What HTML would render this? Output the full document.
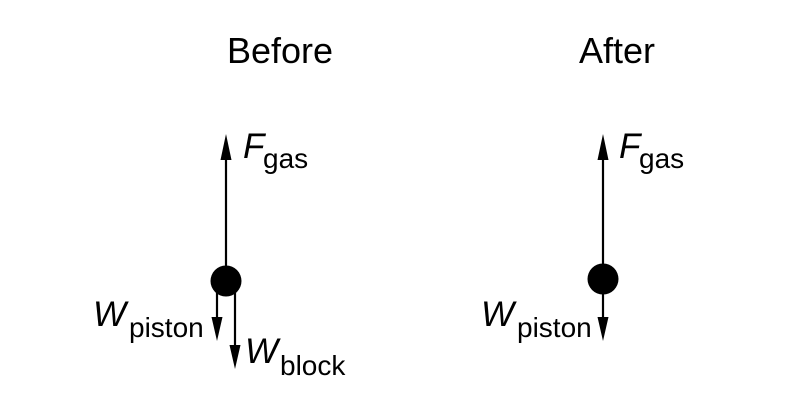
<!DOCTYPE html>
<html><head><style>
body{margin:0;background:#fff;}
svg{display:block;font-family:"Liberation Sans",sans-serif;}
</style></head><body>
<svg width="795" height="403" viewBox="0 0 795 403">
<text x="280" y="63" font-size="36" text-anchor="middle">Before</text>
<text x="617" y="63" font-size="36" text-anchor="middle">After</text>
<g stroke="#000" stroke-width="2.2">
<line x1="226" y1="150" x2="226" y2="282"/>
<line x1="217" y1="282" x2="217" y2="325"/>
<line x1="235" y1="282" x2="235" y2="352"/>
<line x1="603" y1="150" x2="603" y2="280"/>
<line x1="603" y1="280" x2="603" y2="325"/>
</g>
<g fill="#000">
<polygon points="226,134 220.5,160 231.5,160"/>
<polygon points="217,341 211.5,317 222.5,317"/>
<polygon points="235,369 229.5,345 240.5,345"/>
<polygon points="603,134 597.5,160 608.5,160"/>
<polygon points="603,341 597.5,317 608.5,317"/>
<circle cx="226" cy="281" r="15.5"/>
<circle cx="603" cy="279" r="15.5"/>
</g>
<g font-size="35" font-style="italic">
<text x="243" y="158">F</text>
<text x="619" y="158">F</text>
<text x="93" y="326">W</text>
<text x="245" y="363">W</text>
<text x="481" y="326">W</text>
</g>
<g font-size="28">
<text x="263" y="168">gas</text>
<text x="639" y="168">gas</text>
<text x="129" y="337">piston</text>
<text x="280" y="375">block</text>
<text x="517" y="337">piston</text>
</g>
</svg>
</body></html>
